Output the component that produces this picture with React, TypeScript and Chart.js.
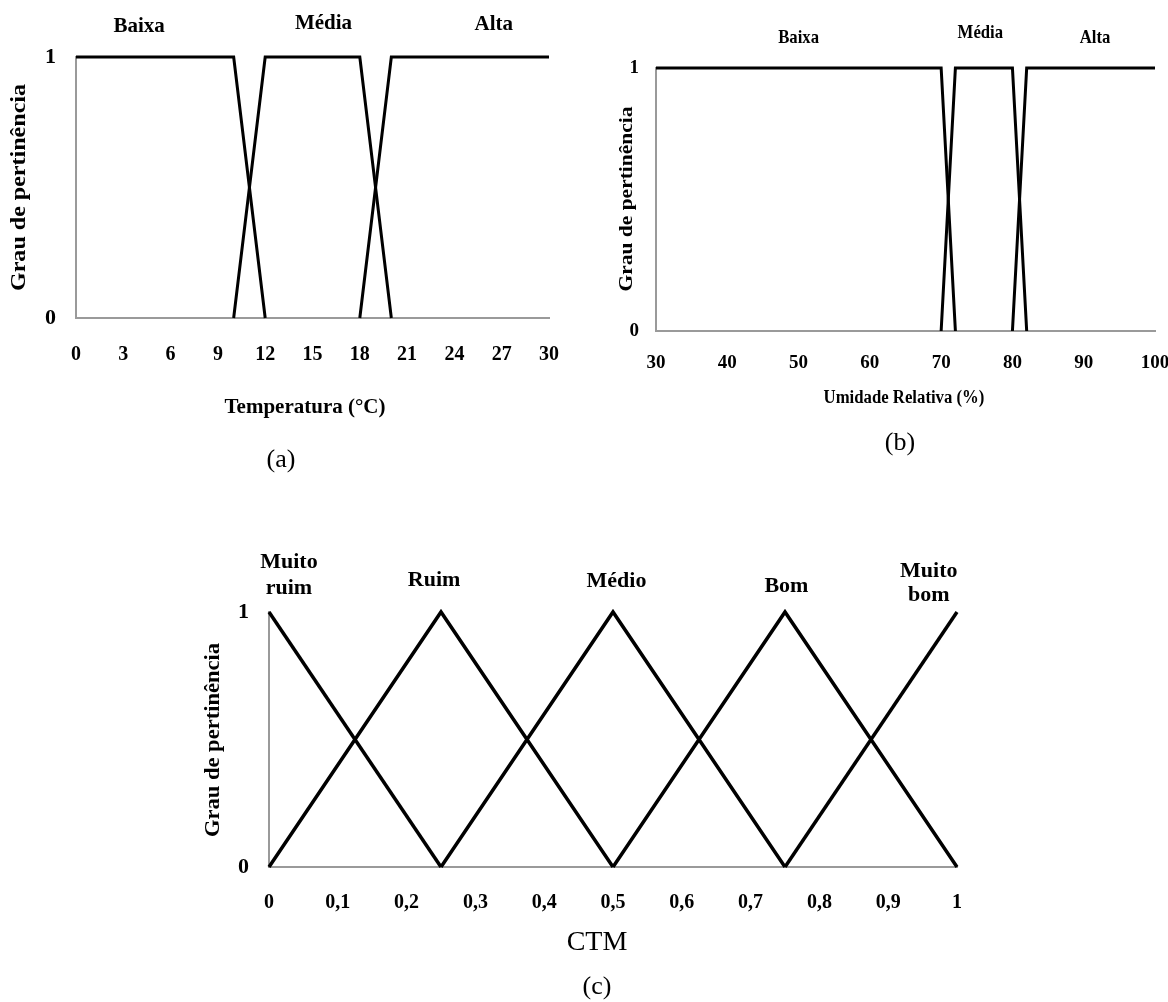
import React, { useEffect, useRef } from 'react';
import { Chart, registerables } from 'chart.js';

Chart.register(...registerables);

const SERIF = "'Liberation Serif', 'Times New Roman', Times, serif";
const AXIS_COLOR = '#9a9a9a';

// ---------- Panel (a): Temperatura ----------
const TEMP_TICKS = [0, 3, 6, 9, 12, 15, 18, 21, 24, 27, 30];
const TEMP_BAIXA_X = [0, 10, 12];
const TEMP_BAIXA_Y = [1, 1, 0];
const TEMP_MEDIA_X = [10, 12, 18, 20];
const TEMP_MEDIA_Y = [0, 1, 1, 0];
const TEMP_ALTA_X = [18, 20, 30];
const TEMP_ALTA_Y = [0, 1, 1];
const TEMP_CATEGORIES = ['Baixa', 'Média', 'Alta'];
const TEMP_CATEGORY_X = [4.0, 15.7, 26.5];

// ---------- Panel (b): Umidade Relativa ----------
const UR_TICKS = [30, 40, 50, 60, 70, 80, 90, 100];
const UR_BAIXA_X = [30, 70, 72];
const UR_BAIXA_Y = [1, 1, 0];
const UR_MEDIA_X = [70, 72, 80, 82];
const UR_MEDIA_Y = [0, 1, 1, 0];
const UR_ALTA_X = [80, 82, 100];
const UR_ALTA_Y = [0, 1, 1];
const UR_CATEGORIES = ['Baixa', 'Média', 'Alta'];
const UR_CATEGORY_X = [50, 75.5, 91.6];

// ---------- Panel (c): CTM ----------
const CTM_TICKS = [0, 0.1, 0.2, 0.3, 0.4, 0.5, 0.6, 0.7, 0.8, 0.9, 1];
const CTM_TICK_LABELS = ['0', '0,1', '0,2', '0,3', '0,4', '0,5', '0,6', '0,7', '0,8', '0,9', '1'];
const CTM_MUITO_RUIM_X = [0, 0.25];
const CTM_MUITO_RUIM_Y = [1, 0];
const CTM_RUIM_X = [0, 0.25, 0.5];
const CTM_RUIM_Y = [0, 1, 0];
const CTM_MEDIO_X = [0.25, 0.5, 0.75];
const CTM_MEDIO_Y = [0, 1, 0];
const CTM_BOM_X = [0.5, 0.75, 1];
const CTM_BOM_Y = [0, 1, 0];
const CTM_MUITO_BOM_X = [0.75, 1];
const CTM_MUITO_BOM_Y = [0, 1];
const CTM_CATEGORIES = [['Muito', 'ruim'], ['Ruim'], ['Médio'], ['Bom'], ['Muito', 'bom']];
const CTM_CATEGORY_X = [0.029, 0.24, 0.505, 0.752, 0.959];

const MEMBERSHIP_TICKS = [0, 1];
const Y_TITLE = 'Grau de pertinência';

type TextItem = {
  text: string | string[];
  x?: number;
  dataX?: number;
  y: number;
  font: string;
  rotate?: boolean;
  length?: number;
  sx?: number;
  lineGap?: number;
};

type Series = { x: number[]; y: number[] };

type PanelCfg = {
  left: number;
  top: number;
  width: number;
  height: number;
  area: { left: number; right: number; top: number; bottom: number };
  xMin: number;
  xMax: number;
  xTicks: number[];
  xLabel: (v: number, i: number) => string;
  series: Series[];
  lineWidth: number;
  tickFontSize: number;
  tickPad: number;
  yTickFontSize: number;
  yTickPad: number;
  texts: TextItem[];
};

function makeTextPlugin(items: TextItem[]) {
  return {
    id: 'panelText',
    afterDraw(chart: any) {
      const ctx: CanvasRenderingContext2D = chart.ctx;
      for (const it of items) {
        ctx.save();
        ctx.fillStyle = '#000';
        ctx.font = it.font;
        ctx.textAlign = 'center';
        ctx.textBaseline = 'middle';
        const px = it.dataX !== undefined ? chart.scales.x.getPixelForValue(it.dataX) : (it.x as number);
        ctx.translate(px, it.y);
        if (it.rotate) ctx.rotate(-Math.PI / 2);
        const lines = Array.isArray(it.text) ? it.text : [it.text];
        lines.forEach((ln, i) => {
          ctx.save();
          const w = ctx.measureText(ln).width;
          const sx = it.length ? it.length / w : it.sx ?? 1;
          ctx.translate(0, i * (it.lineGap ?? 0));
          ctx.scale(sx, 1);
          ctx.fillText(ln, 0, 0);
          ctx.restore();
        });
        ctx.restore();
      }
    },
  };
}

function buildConfig(cfg: PanelCfg): any {
  const { area, width, height } = cfg;
  return {
    type: 'line',
    data: {
      datasets: cfg.series.map((s) => ({
        data: s.x.map((x, i) => ({ x, y: s.y[i] })),
        borderColor: '#000',
        borderWidth: cfg.lineWidth,
        pointRadius: 0,
        fill: false,
        tension: 0,
        clip: false,
        borderJoinStyle: 'miter',
        borderCapStyle: 'butt',
      })),
    },
    options: {
      animation: false,
      responsive: false,
      maintainAspectRatio: false,
      events: [],
      layout: { padding: { left: 0, top: area.top, right: width - area.right, bottom: 0 } },
      plugins: { legend: { display: false }, tooltip: { enabled: false } },
      scales: {
        x: {
          type: 'linear',
          min: cfg.xMin,
          max: cfg.xMax,
          grid: { display: false, drawTicks: false },
          border: { display: true, color: AXIS_COLOR, width: 2 },
          afterBuildTicks: (s: any) => {
            s.ticks = cfg.xTicks.map((v) => ({ value: v }));
          },
          ticks: {
            autoSkip: false,
            maxRotation: 0,
            minRotation: 0,
            padding: cfg.tickPad,
            color: '#000',
            font: { family: SERIF, size: cfg.tickFontSize, weight: 'bold' },
            callback: (v: any, i: number) => cfg.xLabel(v, i),
          },
          afterFit: (s: any) => {
            s.height = height - area.bottom;
            s.paddingLeft = 0;
            s.paddingRight = 0;
          },
        },
        y: {
          type: 'linear',
          min: 0,
          max: 1,
          grid: { display: false, drawTicks: false },
          border: { display: true, color: AXIS_COLOR, width: 2 },
          afterBuildTicks: (s: any) => {
            s.ticks = MEMBERSHIP_TICKS.map((v) => ({ value: v }));
          },
          ticks: {
            padding: cfg.yTickPad,
            color: '#000',
            font: { family: SERIF, size: cfg.yTickFontSize, weight: 'bold' },
            callback: (v: any) => String(v),
          },
          afterFit: (s: any) => {
            s.width = area.left;
            s.paddingTop = 0;
            s.paddingBottom = 0;
          },
        },
      },
    },
    plugins: [makeTextPlugin(cfg.texts)],
  };
}

const PANEL_A: PanelCfg = {
  left: 0,
  top: 0,
  width: 584,
  height: 480,
  area: { left: 76, right: 549, top: 57, bottom: 318 },
  xMin: 0,
  xMax: 30,
  xTicks: TEMP_TICKS,
  xLabel: (v) => String(v),
  series: [
    { x: TEMP_BAIXA_X, y: TEMP_BAIXA_Y },
    { x: TEMP_MEDIA_X, y: TEMP_MEDIA_Y },
    { x: TEMP_ALTA_X, y: TEMP_ALTA_Y },
  ],
  lineWidth: 3,
  tickFontSize: 20,
  tickPad: 25,
  yTickFontSize: 22,
  yTickPad: 20,
  texts: [
    { text: TEMP_CATEGORIES[0], dataX: TEMP_CATEGORY_X[0], y: 27, font: `bold 21px ${SERIF}` },
    { text: TEMP_CATEGORIES[1], dataX: TEMP_CATEGORY_X[1], y: 24, font: `bold 21px ${SERIF}` },
    { text: TEMP_CATEGORIES[2], dataX: TEMP_CATEGORY_X[2], y: 25, font: `bold 21px ${SERIF}` },
    { text: Y_TITLE, x: 20, y: 187.5, rotate: true, length: 207, font: `bold 20px ${SERIF}` },
    { text: 'Temperatura (°C)', x: 305, y: 408, font: `bold 21px ${SERIF}` },
    { text: '(a)', x: 281, y: 460, font: `26px ${SERIF}` },
  ],
};

const PANEL_B: PanelCfg = {
  left: 584,
  top: 0,
  width: 584,
  height: 480,
  area: { left: 72, right: 571, top: 68, bottom: 331 },
  xMin: 30,
  xMax: 100,
  xTicks: UR_TICKS,
  xLabel: (v) => String(v),
  series: [
    { x: UR_BAIXA_X, y: UR_BAIXA_Y },
    { x: UR_MEDIA_X, y: UR_MEDIA_Y },
    { x: UR_ALTA_X, y: UR_ALTA_Y },
  ],
  lineWidth: 3,
  tickFontSize: 19,
  tickPad: 21,
  yTickFontSize: 19,
  yTickPad: 17,
  texts: [
    { text: UR_CATEGORIES[0], dataX: UR_CATEGORY_X[0], y: 38, sx: 0.88, font: `bold 19px ${SERIF}` },
    { text: UR_CATEGORIES[1], dataX: UR_CATEGORY_X[1], y: 33, sx: 0.88, font: `bold 19px ${SERIF}` },
    { text: UR_CATEGORIES[2], dataX: UR_CATEGORY_X[2], y: 38, sx: 0.88, font: `bold 19px ${SERIF}` },
    { text: Y_TITLE, x: 43, y: 199, rotate: true, length: 185, font: `bold 18px ${SERIF}` },
    { text: 'Umidade Relativa (%)', x: 320, y: 398, sx: 0.93, font: `bold 18px ${SERIF}` },
    { text: '(b)', x: 316, y: 443, font: `26px ${SERIF}` },
  ],
};

const PANEL_C: PanelCfg = {
  left: 0,
  top: 500,
  width: 1168,
  height: 502,
  area: { left: 269, right: 957, top: 112, bottom: 367 },
  xMin: 0,
  xMax: 1,
  xTicks: CTM_TICKS,
  xLabel: (_v, i) => CTM_TICK_LABELS[i],
  series: [
    { x: CTM_MUITO_RUIM_X, y: CTM_MUITO_RUIM_Y },
    { x: CTM_RUIM_X, y: CTM_RUIM_Y },
    { x: CTM_MEDIO_X, y: CTM_MEDIO_Y },
    { x: CTM_BOM_X, y: CTM_BOM_Y },
    { x: CTM_MUITO_BOM_X, y: CTM_MUITO_BOM_Y },
  ],
  lineWidth: 3.5,
  tickFontSize: 20,
  tickPad: 24,
  yTickFontSize: 22,
  yTickPad: 20,
  texts: [
    { text: CTM_CATEGORIES[0], dataX: CTM_CATEGORY_X[0], y: 62, lineGap: 26, font: `bold 22px ${SERIF}` },
    { text: CTM_CATEGORIES[1], dataX: CTM_CATEGORY_X[1], y: 80, font: `bold 22px ${SERIF}` },
    { text: CTM_CATEGORIES[2], dataX: CTM_CATEGORY_X[2], y: 81, font: `bold 22px ${SERIF}` },
    { text: CTM_CATEGORIES[3], dataX: CTM_CATEGORY_X[3], y: 86, font: `bold 22px ${SERIF}` },
    { text: CTM_CATEGORIES[4], dataX: CTM_CATEGORY_X[4], y: 71, lineGap: 24, font: `bold 22px ${SERIF}` },
    { text: Y_TITLE, x: 213, y: 240, rotate: true, length: 194, font: `bold 22px ${SERIF}` },
    { text: 'CTM', x: 597, y: 443, font: `28px ${SERIF}` },
    { text: '(c)', x: 597, y: 487, font: `26px ${SERIF}` },
  ],
};

function Panel({ cfg }: { cfg: PanelCfg }) {
  const ref = useRef<HTMLCanvasElement | null>(null);
  useEffect(() => {
    if (!ref.current) return;
    const chart = new Chart(ref.current, buildConfig(cfg));
    return () => chart.destroy();
  }, [cfg]);
  return (
    <canvas
      ref={ref}
      width={cfg.width}
      height={cfg.height}
      style={{
        position: 'absolute',
        left: cfg.left,
        top: cfg.top,
        width: cfg.width,
        height: cfg.height,
        display: 'block',
      }}
    />
  );
}

export default function App() {
  return (
    <div
      style={{
        position: 'absolute',
        left: 0,
        top: 0,
        width: 1168,
        height: 1002,
        background: '#fff',
        overflow: 'hidden',
      }}
    >
      <Panel cfg={PANEL_A} />
      <Panel cfg={PANEL_B} />
      <Panel cfg={PANEL_C} />
    </div>
  );
}
